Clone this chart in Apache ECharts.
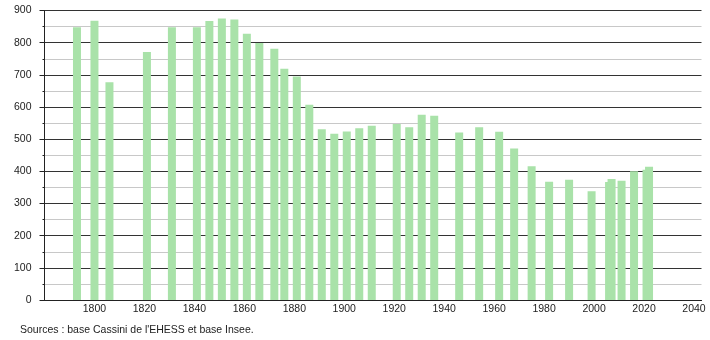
<!DOCTYPE html>
<html>
<head>
<meta charset="utf-8">
<script src="https://cdn.jsdelivr.net/npm/echarts@6/dist/echarts.min.js"></script>
<style>
html,body{margin:0;padding:0;background:#fff;}
#chart{width:710px;height:340px;}
</style>
</head>
<body>
<div id="chart"></div>
<script>
var years = [1793,1800,1806,1821,1831,1841,1846,1851,1856,1861,1866,1872,1876,1881,1886,1891,1896,1901,1906,1911,1921,1926,1931,1936,1946,1954,1962,1968,1975,1982,1990,1999,2006,2007,2011,2016,2021,2022];
var population = [848,868,677,771,848,848,867,875,872,828,799,781,719,695,607,531,517,524,534,542,547,537,576,573,521,537,523,471,416,368,374,338,367,376,371,400,405,414];
var sourceText = "Sources : base Cassini de l'EHESS et base Insee.";

var data = years.map(function(y,i){ return [y, population[i]]; });
var chart = echarts.init(document.getElementById('chart'), null, {renderer:'canvas'});
chart.setOption({
  animation:false,
  backgroundColor:'#ffffff',
  grid:{left:44.5, right:8.5, top:10.5, bottom:40, containLabel:false},
  xAxis:{
    type:'value', min:1780, max:2043, interval:20,
    axisLine:{show:true, lineStyle:{color:'#222', width:1}},
    axisTick:{show:false},
    splitLine:{show:false},
    axisLabel:{
      margin:4, color:'#222', fontSize:10.5, fontFamily:'Liberation Sans, Arial',
      formatter:function(v){ return (v % 20 === 0 && v !== 1780) ? String(v) : ''; }
    }
  },
  yAxis:{
    type:'value', min:0, max:900, interval:100,
    axisLine:{show:true, lineStyle:{color:'#222', width:1}},
    axisTick:{show:true, length:5, lineStyle:{color:'#222'}},
    minorTick:{show:true, splitNumber:2, length:2, lineStyle:{color:'#222'}},
    splitLine:{show:true, lineStyle:{color:'#333', width:1}},
    minorSplitLine:{show:true, lineStyle:{color:'#c8c8c8', width:1}},
    axisLabel:{margin:13, color:'#222', fontSize:10.5, fontFamily:'Liberation Sans, Arial'}
  },
  series:[{
    type:'bar', data:data, barWidth:8,
    itemStyle:{color:'#a9e2a9'}
  }],
  graphic:[{
    type:'text', left:20, top:325,
    style:{text:sourceText, fill:'#222', font:'10.5px "Liberation Sans", Arial'}
  }]
});
</script>
</body>
</html>
